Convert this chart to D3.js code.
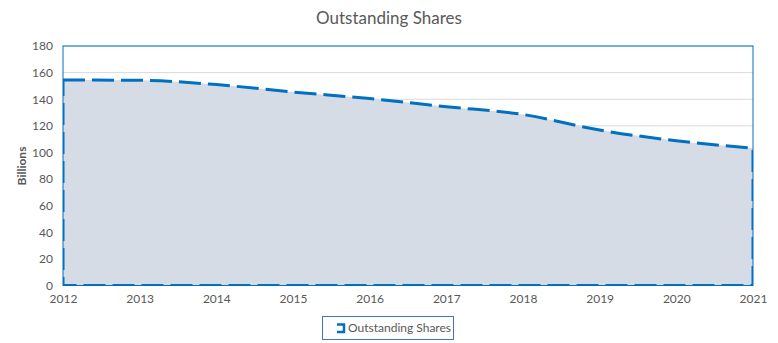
<!DOCTYPE html>
<html><head><meta charset="utf-8">
<script src="https://cdn.jsdelivr.net/npm/d3@7"></script>
<style>body{margin:0;background:#fff;} svg{display:block;font-family:Lato, "Open Sans", sans-serif;}</style>
</head><body>
<svg id="c" width="778" height="343"></svg>
<script>
const years = [2012,2013,2014,2015,2016,2017,2018,2019,2020,2021];
const shares = [154.4,154.2,151.0,145.4,140.5,134.4,128.5,116.8,108.8,103.1];
const yTicks = [0,20,40,60,80,100,120,140,160,180];
const title = "Outstanding Shares";
const yLabel = "Billions";
const seriesName = "Outstanding Shares";

const svg = d3.select("#c");
const L=63, R=753, T=46, B=285.5;
const x = d3.scaleLinear().domain([2012,2021]).range([L,R]);
const y = d3.scaleLinear().domain([0,180]).range([B,T]);
const blue="#0070C0", txt="#595959";

svg.append("defs").append("clipPath").attr("id","clip").append("rect")
  .attr("x",L).attr("y",T-5).attr("width",R-L).attr("height",B-T+5);

svg.append("text").attr("x",389).attr("y",24).attr("text-anchor","middle")
  .attr("font-size",17).attr("fill",txt).text(title);

// gridlines
svg.append("g").selectAll("line").data(yTicks.filter(d=>d>0)).join("line")
  .attr("x1",L).attr("x2",R).attr("y1",d=>y(d)).attr("y2",d=>y(d))
  .attr("stroke","#d9d9d9").attr("stroke-width",1);

const data = years.map((yr,i)=>({yr,v:shares[i]}));
const area = d3.area().x(d=>x(d.yr)).y0(y(0)).y1(d=>y(d.v)).curve(d3.curveMonotoneX);
svg.append("path").datum(data).attr("d",area).attr("fill","#D6DCE5").attr("stroke","none");

// plot border
svg.append("rect").attr("x",L).attr("y",T).attr("width",R-L).attr("height",B-T)
  .attr("fill","none").attr("stroke",blue).attr("stroke-width",1);

// dashed outline of the area
svg.append("path").datum(data).attr("d",area).attr("fill","none").attr("clip-path","url(#clip)")
  .attr("stroke",blue).attr("stroke-width",3).attr("stroke-dasharray","22,7");

// y axis labels
const yAxis = d3.axisLeft(y).tickValues(yTicks).tickSize(0).tickPadding(10);
const gy = svg.append("g").attr("transform",`translate(${L},0)`).call(yAxis);
gy.select(".domain").remove();
gy.selectAll("text").attr("fill",txt).attr("font-size",12).attr("font-family","Lato, 'Open Sans', sans-serif");

const xAxis = d3.axisBottom(x).tickValues(years).tickFormat(d3.format("d")).tickSize(0).tickPadding(9);
const gx = svg.append("g").attr("transform",`translate(0,${B})`).call(xAxis);
gx.select(".domain").remove();
gx.selectAll("text").attr("fill",txt).attr("font-size",12).attr("font-family","Lato, 'Open Sans', sans-serif");

svg.append("text").attr("transform","translate(26,166) rotate(-90)").attr("text-anchor","middle")
  .attr("font-size",12).attr("font-weight","bold").attr("fill",txt).text(yLabel);

// legend
const lg = svg.append("g");
lg.append("rect").attr("x",322.5).attr("y",316.5).attr("width",131).attr("height",23)
  .attr("fill","#fff").attr("stroke","#4472C4").attr("stroke-width",1);
lg.append("path").attr("d","M337,324.5 H344 V332 H337").attr("fill","none")
  .attr("stroke",blue).attr("stroke-width",2.5);
lg.append("text").attr("x",348).attr("y",332).attr("font-size",12).attr("fill",txt).text(seriesName);
</script>
</body></html>
